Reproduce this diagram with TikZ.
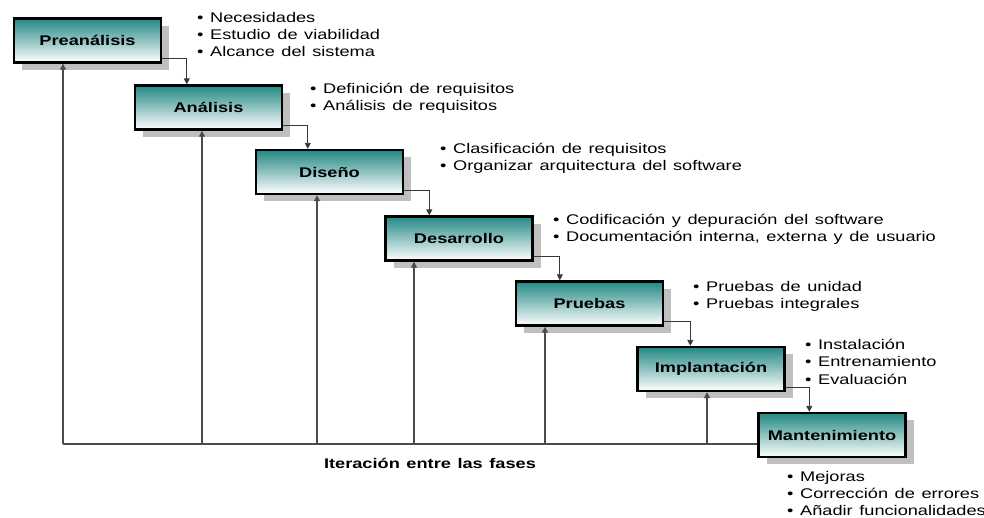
\documentclass[tikz,border=0pt]{standalone}
\usepackage{fontspec}
\setmainfont{Liberation Sans}[FakeStretch=1.3, WordSpace=1.3]
\usetikzlibrary{arrows.meta,shadows,calc}
\definecolor{boxteal}{RGB}{34,136,132}
\definecolor{linegray}{RGB}{55,55,55}
\begin{document}
\begin{tikzpicture}[x=1pt,y=-1pt,
  phase/.style={draw=black, line width=2.4pt, minimum width=147pt, minimum height=44pt, inner sep=0pt,
    top color=boxteal, bottom color=white, font=\fontsize{14}{17}\selectfont\bfseries,
    drop shadow={shadow xshift=8pt, shadow yshift=-7pt, fill=black!25, opacity=1}},
  notes/.style={anchor=north west, inner sep=0pt, align=left, font=\fontsize{14}{17.3}\selectfont},
  conn/.style={draw=linegray, line width=0.9pt, -{Triangle[length=6pt,width=6pt]}},
  fb/.style={draw=linegray!90, line width=1.1pt},
  fbarrow/.style={fb, -{Triangle[length=6pt,width=6pt]}}]
\useasboundingbox (0,0) rectangle (984,517);

\node[phase] (pre) at (87.5,40.5) {Preanálisis};
\node[phase] (ana) at (208.5,107.5) {Análisis};
\node[phase] (dis) at (329.5,172) {Diseño};
\node[phase] (des) at (459,238.5) {Desarrollo};
\node[phase] (pru) at (589.5,303.5) {Pruebas};
\node[phase] (imp) at (711,369) {Implantación};
\node[phase] (man) at (832,435) {Mantenimiento};

\draw[conn] ([yshift=5pt]pre.south east) -| ([xshift=53pt]ana.north west);
\draw[conn] ([yshift=5pt]ana.south east) -| ([xshift=53pt]dis.north west);
\draw[conn] ([yshift=5pt]dis.south east) -| ([xshift=45pt]des.north west);
\draw[conn] ([yshift=5pt]des.south east) -| ([xshift=45pt]pru.north west);
\draw[conn] ([yshift=5pt]pru.south east) -| ([xshift=54pt]imp.north west);
\draw[conn] ([yshift=5pt]imp.south east) -| ([xshift=52pt]man.north west);

\coordinate (f1) at (63,444);
\coordinate (f2) at (202,444);
\coordinate (f3) at (317,444);
\coordinate (f4) at (414,444);
\coordinate (f5) at (545,444);
\coordinate (f6) at (707,444);
\draw[fb] (f1) -- (f1 -| man.west);
\draw[fbarrow] (f1) -- (f1 |- pre.south);
\draw[fbarrow] (f2) -- (f2 |- ana.south);
\draw[fbarrow] (f3) -- (f3 |- dis.south);
\draw[fbarrow] (f4) -- (f4 |- des.south);
\draw[fbarrow] (f5) -- (f5 |- pru.south);
\draw[fbarrow] (f6) -- (f6 |- imp.south);

\node[font=\fontsize{14}{17}\selectfont\bfseries] (iter) at (430,463) {Iteración entre las fases};

\node[notes] (n1) at (197,12) {• Necesidades\\• Estudio de viabilidad\\• Alcance del sistema};
\node[notes] (n2) at (310,83) {• Definición de requisitos\\• Análisis de requisitos};
\node[notes] (n3) at (440,143) {• Clasificación de requisitos\\• Organizar arquitectura del software};
\node[notes] (n4) at (553,214) {• Codificación y depuración del software\\• Documentación interna, externa y de usuario};
\node[notes] (n5) at (693,281) {• Pruebas de unidad\\• Pruebas integrales};
\node[notes] (n6) at (805,339) {• Instalación\\• Entrenamiento\\• Evaluación};
\node[notes] (n7) at (787,471) {• Mejoras\\• Corrección de errores\\• Añadir funcionalidades};
\end{tikzpicture}
\end{document}
